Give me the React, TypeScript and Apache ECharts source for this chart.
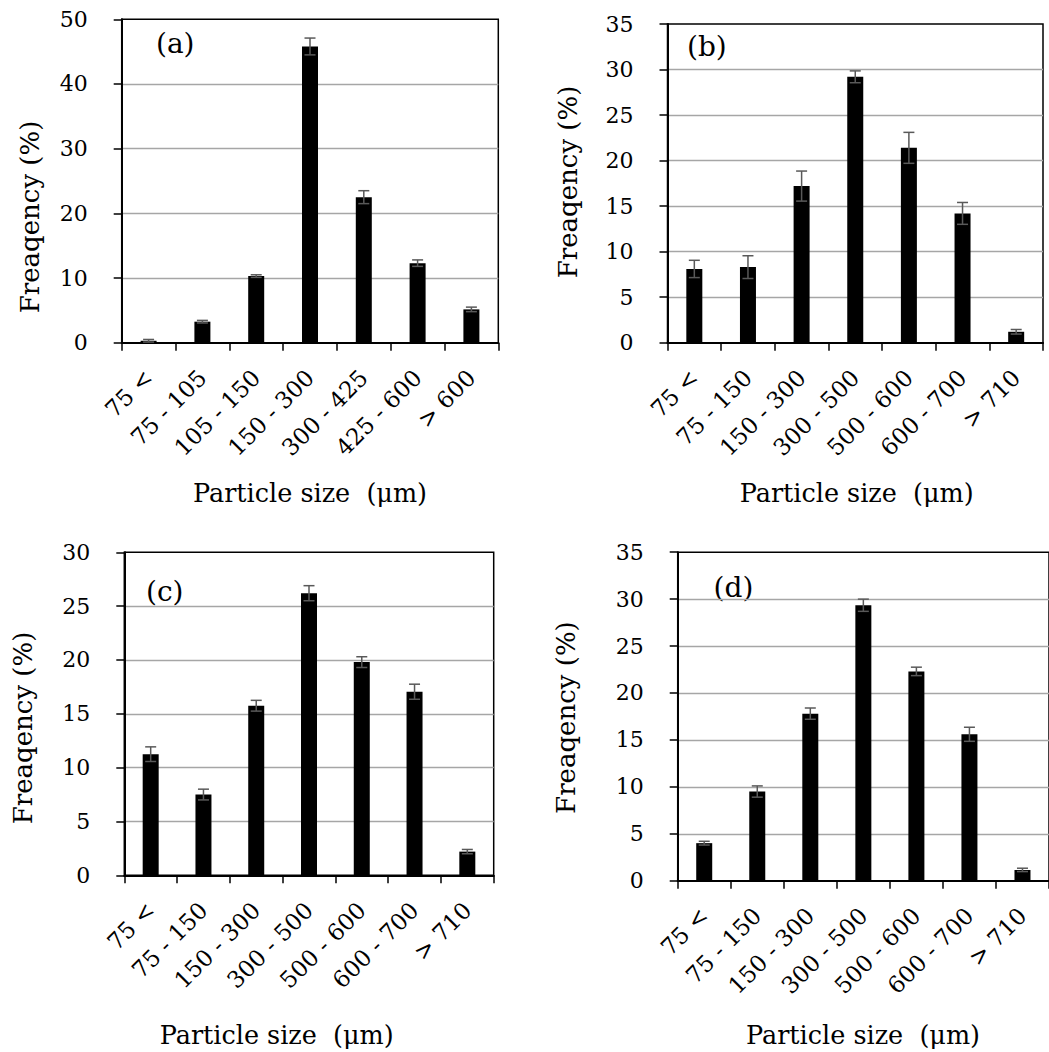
import React, { useEffect, useRef } from "react";
import * as echarts from "echarts";

const categoriesA = ["75 <", "75 - 105", "105 - 150", "150 - 300", "300 - 425", "425 - 600", "> 600"];
const categoriesBCD = ["75 <", "75 - 150", "150 - 300", "300 - 500", "500 - 600", "600 - 700", "> 710"];

const valuesA = [0.3, 3.25, 10.3, 45.8, 22.5, 12.3, 5.15];
const errorsA = [0.2, 0.2, 0.2, 1.3, 1.0, 0.5, 0.35];

const valuesB = [8.1, 8.3, 17.2, 29.2, 21.4, 14.2, 1.2];
const errorsB = [0.95, 1.25, 1.65, 0.65, 1.7, 1.2, 0.25];

const valuesC = [11.25, 7.5, 15.75, 26.2, 19.8, 17.05, 2.2];
const errorsC = [0.68, 0.5, 0.5, 0.7, 0.5, 0.7, 0.2];

const valuesD = [4.0, 9.5, 17.8, 29.35, 22.3, 15.6, 1.15];
const errorsD = [0.2, 0.6, 0.6, 0.65, 0.45, 0.75, 0.18];

const yMax = [50, 35, 30, 35];
const yInterval = [10, 5, 5, 5];
const panelLabels = ["(a)", "(b)", "(c)", "(d)"];
const yTitle = "Freaqency (%)";
const xTitle = "Particle size  (μm)";

const FONT = "DejaVu Serif";

export default function App() {
  const ref = useRef<HTMLDivElement>(null);
  useEffect(() => {
    if (!ref.current) return;
    const chart = echarts.init(ref.current, null, { renderer: "svg" });

    const panels = [
      { cats: categoriesA, vals: valuesA, errs: errorsA, grid: { left: 121.7, top: 19.3, width: 376.6, height: 323.4 } },
      { cats: categoriesBCD, vals: valuesB, errs: errorsB, grid: { left: 667.5, top: 24, width: 375.5, height: 318.7 } },
      { cats: categoriesBCD, vals: valuesC, errs: errorsC, grid: { left: 124.3, top: 552.3, width: 369.4, height: 323 } },
      { cats: categoriesBCD, vals: valuesD, errs: errorsD, grid: { left: 677.7, top: 552.2, width: 373, height: 328.5 } },
    ];

    const grids = panels.map((p) => ({
      ...p.grid,
      show: true,
      borderColor: "#000",
      borderWidth: 1.5,
      backgroundColor: "transparent",
      containLabel: false,
    }));

    const xAxes = panels.map((p, i) => ({
      type: "category",
      gridIndex: i,
      data: p.cats,
      boundaryGap: true,
      axisLine: { show: true, lineStyle: { color: "#000", width: 2 } },
      axisTick: { show: true, length: 8, inside: false, lineStyle: { color: "#000", width: 1.5 } },
      axisLabel: {
        rotate: 45,
        interval: 0,
        margin: 31,
        color: "#000",
        fontFamily: FONT,
        fontSize: 23,
      },
      splitLine: { show: false },
    }));

    const yAxes = panels.map((p, i) => ({
      type: "value",
      gridIndex: i,
      min: 0,
      max: yMax[i],
      interval: yInterval[i],
      axisLine: { show: true, lineStyle: { color: "#000", width: 2 } },
      axisTick: {
        show: true,
        length: 8,
        lineStyle: { color: "#000", width: 1.5 },
      },
      axisLabel: { color: "#000", fontFamily: FONT, fontSize: 22, margin: 34 },
      splitLine: {
        show: true,
        showMinLine: false,
        showMaxLine: false,
        lineStyle: { color: "#a6a6a6", width: 1.4 },
      },
    }));

    const series: any[] = [];
    panels.forEach((p, i) => {
      series.push({
        type: "bar",
        xAxisIndex: i,
        yAxisIndex: i,
        data: p.vals,
        barWidth: 16,
        itemStyle: { color: "#000" },
        z: 2,
      });
      series.push({
        type: "custom",
        xAxisIndex: i,
        yAxisIndex: i,
        data: p.vals.map((v, k) => [k, v, p.errs[k]]),
        encode: { x: 0, y: 1 },
        z: 3,
        renderItem: (params: any, api: any) => {
          const x = api.value(0);
          const v = api.value(1);
          const e = api.value(2);
          const hi = api.coord([x, v + e]);
          const lo = api.coord([x, v - e]);
          const hw = 5.5;
          const style = { stroke: "#595959", lineWidth: 1.5 };
          return {
            type: "group",
            children: [
              { type: "line", shape: { x1: hi[0], y1: hi[1], x2: lo[0], y2: lo[1] }, style },
              { type: "line", shape: { x1: hi[0] - hw, y1: hi[1], x2: hi[0] + hw, y2: hi[1] }, style },
              { type: "line", shape: { x1: lo[0] - hw, y1: lo[1], x2: lo[0] + hw, y2: lo[1] }, style },
            ],
          };
        },
      });
    });

    const yTitlePos = [
      [29.5, 217],
      [568, 182],
      [23.3, 728],
      [565.5, 717.6],
    ];
    const xTitlePos = [
      [310, 493],
      [856.7, 493],
      [276.7, 1035],
      [863, 1035],
    ];
    const labelPos = [
      [156, 43],
      [687, 46],
      [146, 591],
      [713.6, 587],
    ];

    const graphic: any[] = [];
    for (let i = 0; i < 4; i++) {
      graphic.push({
        type: "text",
        x: yTitlePos[i][0],
        y: yTitlePos[i][1],
        rotation: Math.PI / 2,
        style: {
          text: yTitle,
          fill: "#000",
          font: `26px "${FONT}"`,
          textAlign: "center",
          textVerticalAlign: "middle",
        },
      });
      graphic.push({
        type: "text",
        x: xTitlePos[i][0],
        y: xTitlePos[i][1],
        style: {
          text: xTitle,
          fill: "#000",
          font: `25.5px "${FONT}"`,
          textAlign: "center",
          textVerticalAlign: "middle",
        },
      });
      graphic.push({
        type: "text",
        x: labelPos[i][0],
        y: labelPos[i][1],
        style: {
          text: panelLabels[i],
          fill: "#000",
          font: `28px "${FONT}"`,
          textAlign: "left",
          textVerticalAlign: "middle",
        },
      });
    }

    chart.setOption({
      animation: false,
      backgroundColor: "#fff",
      grid: grids,
      xAxis: xAxes,
      yAxis: yAxes,
      series,
      graphic,
    });
    return () => chart.dispose();
  }, []);

  return (
    <div
      ref={ref}
      style={{ position: "absolute", left: 0, top: 0, width: 1049, height: 1052, background: "#fff" }}
    />
  );
}
